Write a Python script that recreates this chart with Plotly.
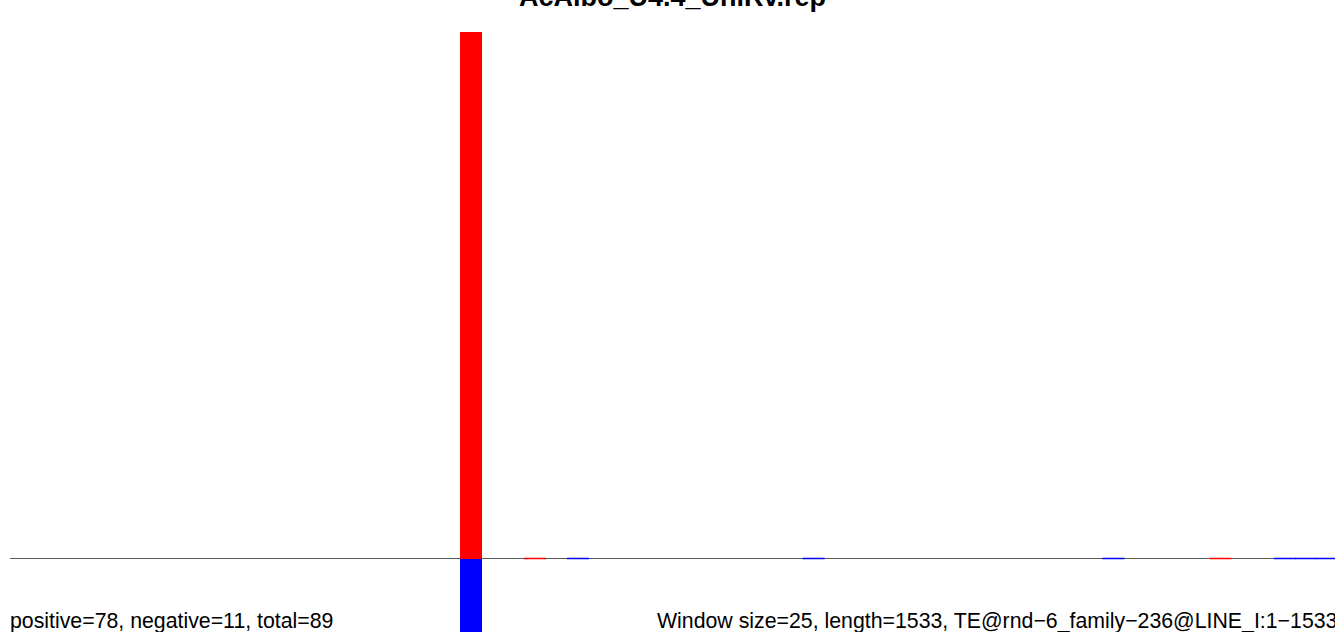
import plotly.graph_objects as go

# Donnees (fenetres de 25 pb sur un element de 1533 pb)
taille_fenetre = 25
longueur = 1533
titre = "AcAlbo_U4.4_UhlRv.rep"

debuts_positifs = [525, 600, 1400]
comptes_positifs = [78, 0, 0]

debuts_negatifs = [525, 650, 925, 1275, 1475, 1500, 1525]
comptes_negatifs = [11, 0, 0, 0, 0, 0, 0]

texte_gauche = "positive=78, negative=11, total=89"
texte_droite = "Window size=25, length=1533, TE@rnd\u22126_family\u2212236@LINE_I:1\u22121533"

ROUGE = "#ff0000"
BLEU = "#0000ff"

fig = go.Figure()

# ligne de base grise
fig.add_shape(type="line", x0=0, x1=1560, y0=0, y1=0, xref="x", yref="y",
              line={"color": "#5a5a5a", "width": 1}, layer="below")


def ajouter_serie(debuts, comptes, couleur, signe):
    barres_x = [d + taille_fenetre / 2 for d, c in zip(debuts, comptes) if c > 0]
    barres_y = [signe * c for c in comptes if c > 0]
    fig.add_trace(go.Bar(x=barres_x, y=barres_y, width=taille_fenetre * 1.03,
                         marker={"color": couleur, "line": {"width": 0}},
                         showlegend=False, hoverinfo="skip"))
    # fenetres a valeur nulle : petit trait colore sur la ligne de base
    for d, c in zip(debuts, comptes):
        if c == 0:
            fig.add_trace(go.Scatter(x=[d, d + taille_fenetre * 1.03], y=[0, 0], mode="lines",
                                     line={"color": couleur, "width": 1.5},
                                     showlegend=False, hoverinfo="skip"))


ajouter_serie(debuts_positifs, comptes_positifs, ROUGE, 1)
ajouter_serie(debuts_negatifs, comptes_negatifs, BLEU, -1)

px_par_pb = 21.42 / taille_fenetre
px_par_unite = 527 / 78
zero_px = 558.5

fig.update_layout(
    width=1335,
    height=632,
    margin={"l": 0, "r": 0, "t": 0, "b": 0},
    plot_bgcolor="white",
    paper_bgcolor="white",
    barmode="overlay",
    bargap=0,
    xaxis={"range": [-10 / px_par_pb, (1335 - 10) / px_par_pb], "visible": False, "fixedrange": True},
    yaxis={"range": [-(632 - zero_px) / px_par_unite, zero_px / px_par_unite],
           "visible": False, "fixedrange": True},
    font={"family": "Liberation Sans, Arial, sans-serif", "color": "black"},
    annotations=[
        {"text": f"<b>{titre}</b>", "xref": "paper", "yref": "paper", "x": 0.5035, "y": 1,
         "xanchor": "center", "yanchor": "bottom", "yshift": -14, "showarrow": False,
         "font": {"size": 27}},
        {"text": texte_gauche, "xref": "paper", "yref": "paper", "x": 0, "y": 0,
         "xanchor": "left", "yanchor": "bottom", "xshift": 8, "yshift": -3, "showarrow": False,
         "font": {"size": 21.3}},
        {"text": texte_droite, "xref": "paper", "yref": "paper", "x": 0, "y": 0,
         "xanchor": "left", "yanchor": "bottom", "xshift": 655, "yshift": -3, "showarrow": False,
         "font": {"size": 21.3}},
    ],
)

# pas de marge autour du graphique dans la page
fig.write_html("out.html", config={"displayModeBar": False},
               post_script="document.body.style.margin='0';")
